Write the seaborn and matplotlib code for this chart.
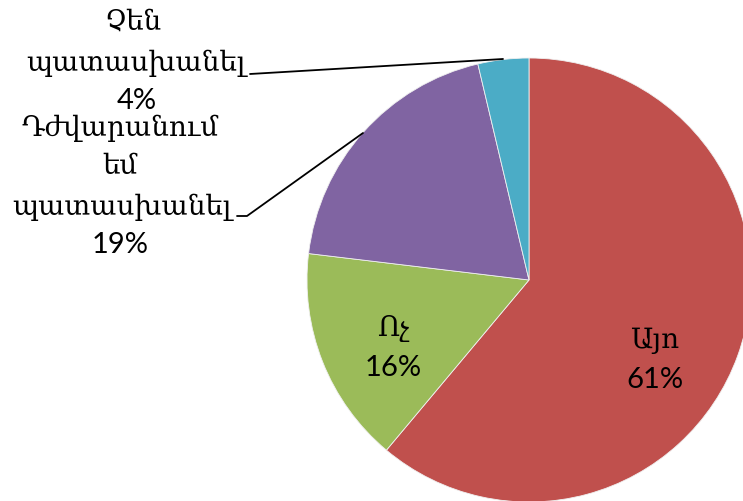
import matplotlib
matplotlib.use("Agg")
import matplotlib.pyplot as plt
import seaborn as sns

categories = ["Այո", "Ոչ", "Դժվարանում\nեմ\nպատասխանել", "Չեն\nպատասխանել"]
values = [61.1, 15.8, 19.4, 3.7]
pct_labels = ["61%", "16%", "19%", "4%"]
colors = ["#C0504D", "#9BBB59", "#8064A2", "#4BACC6"]

sns.set_theme(style="white")
plt.rcParams["font.family"] = ["DejaVu Serif", "DejaVu Sans"]

W, H = 743, 501
fig = plt.figure(figsize=(W / 100, H / 100), dpi=100)
ax = fig.add_axes([0, 0, 1, 1])
cx, cy, R = 529, 280, 222

def d(px, py):
    return (px - cx) / R, (cy - py) / R

ax.pie(values, colors=colors, startangle=90, counterclock=False,
       radius=1, center=(0, 0), wedgeprops=dict(linewidth=0.6, edgecolor="#f0f0f0"))
ax.set_xlim(-cx / R, (W - cx) / R)
ax.set_ylim(-(H - cy) / R, cy / R)
ax.set_aspect("auto")
ax.axis("off")

arm = dict(family=["DejaVu Serif", "DejaVu Sans"], fontsize=20, color="black",
           ha="center", va="center")
num = dict(family=["Lato", "DejaVu Sans"], fontsize=21, color="black",
           ha="center", va="center")

# label layout (pixel positions of text lines)
label_lines = [
    [(655, 340)],
    [(393, 328)],
    [(120, 128), (120, 166), (122, 207)],
    [(133, 22), (136, 63)],
]
pct_pos = [(655, 380), (393, 368), (120, 245), (137, 101)]

for cat, lines, pct, pp in zip(categories, label_lines, pct_labels, pct_pos):
    for word, (px, py) in zip(cat.split("\n"), lines):
        ax.text(*d(px, py), word, **arm)
    ax.text(*d(*pp), pct, **num)

# leader lines
for pts in ([(250, 74), (503, 59)], [(237, 216), (247, 216), (363, 133)]):
    xs, ys = zip(*[d(*p) for p in pts])
    ax.plot(xs, ys, color="black", lw=1.3)

fig.savefig("out.png", dpi=100)
